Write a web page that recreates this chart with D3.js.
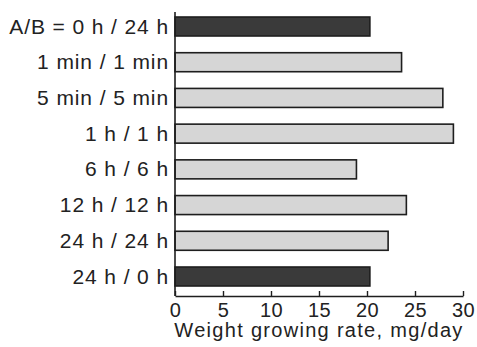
<!DOCTYPE html>
<html>
<head>
<meta charset="utf-8">
<script src="https://cdn.jsdelivr.net/npm/d3@7"></script>
<style>
  html, body { margin: 0; padding: 0; background: #fff; }
  svg { display: block; }
  text { font-family: "Liberation Sans", Arial, Helvetica, sans-serif; fill: #222; }
</style>
</head>
<body>
<svg id="chart" width="477" height="347"></svg>
<script>
const categories = ["A/B = 0 h / 24 h", "1 min / 1 min", "5 min / 5 min", "1 h / 1 h",
                    "6 h / 6 h", "12 h / 12 h", "24 h / 24 h", "24 h / 0 h"];
const values = [20.3, 23.6, 27.9, 29.0, 18.9, 24.1, 22.2, 20.3];
const isControl = [true, false, false, false, false, false, false, true];
const xTicks = [0, 5, 10, 15, 20, 25, 30];
const xTitle = "Weight growing rate, mg/day";

const svg = d3.select("#chart");
const x = d3.scaleLinear().domain([0, 30]).range([175, 463]);
const y = d3.scaleBand().domain(categories).range([17, 286]).paddingInner(0.468).paddingOuter(0);
const baseY = 296;

// bars
svg.append("g").selectAll("rect")
  .data(categories)
  .join("rect")
  .attr("x", x(0))
  .attr("y", d => y(d))
  .attr("width", (d, i) => x(values[i]) - x(0))
  .attr("height", y.bandwidth())
  .attr("fill", (d, i) => isControl[i] ? "#3a3a3a" : "#d6d6d6")
  .attr("stroke", "#1e1e1e")
  .attr("stroke-width", 1.6);

// category labels
svg.append("g").selectAll("text")
  .data(categories)
  .join("text")
  .attr("x", 169)
  .attr("y", d => y(d) + y.bandwidth() / 2 + 7)
  .attr("text-anchor", "end")
  .style("font-size", "21px")
  .style("letter-spacing", "0.9px")
  .text(d => d);

// vertical axis line
svg.append("line")
  .attr("x1", x(0)).attr("x2", x(0))
  .attr("y1", 12).attr("y2", baseY)
  .attr("stroke", "#1e1e1e").attr("stroke-width", 1.6);

// x axis
const xAxis = d3.axisBottom(x).tickValues(xTicks).tickSizeInner(-5).tickSizeOuter(0).tickPadding(7);
const gx = svg.append("g").attr("transform", `translate(0,${baseY})`).call(xAxis);
gx.select(".domain").attr("stroke", "#1e1e1e").attr("stroke-width", 1.6);
gx.selectAll(".tick line").attr("stroke", "#1e1e1e").attr("stroke-width", 1.4);
gx.selectAll(".tick text")
  .style("font-size", "20px")
  .style("letter-spacing", "0.5px")
  .style("font-family", "'Liberation Sans', Arial, sans-serif")
  .attr("fill", "#222");

// x title
svg.append("text")
  .attr("x", (x(0) + x(30)) / 2)
  .attr("y", 337)
  .attr("text-anchor", "middle")
  .style("font-size", "20px")
  .style("letter-spacing", "1.3px")
  .text(xTitle);
</script>
</body>
</html>
